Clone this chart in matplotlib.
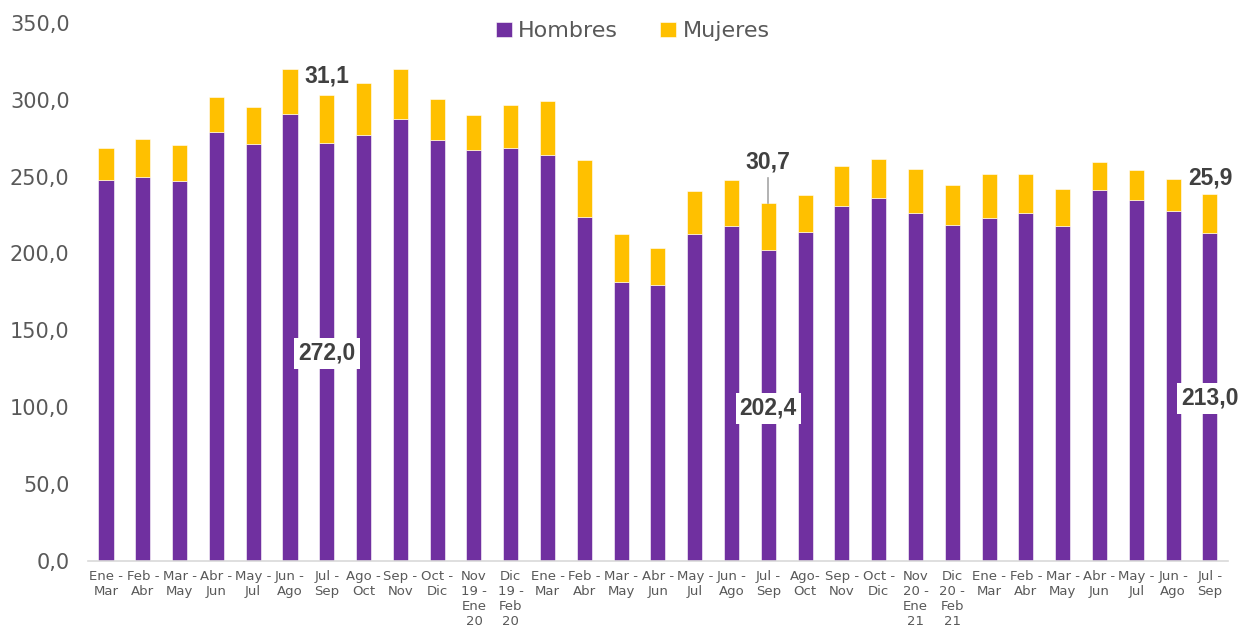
import matplotlib
matplotlib.use('Agg')
import matplotlib.pyplot as plt
import numpy as np

# Periodos trimestrales moviles (sep 2019 - sep 2021)
periodos = ['Ene -\nMar', 'Feb -\nAbr', 'Mar -\nMay', 'Abr -\nJun', 'May -\nJul', 'Jun -\nAgo',
            'Jul -\nSep', 'Ago -\nOct', 'Sep -\nNov', 'Oct -\nDic', 'Nov\n19 -\nEne\n20',
            'Dic\n19 -\nFeb\n20', 'Ene -\nMar', 'Feb -\nAbr', 'Mar -\nMay', 'Abr -\nJun',
            'May -\nJul', 'Jun -\nAgo', 'Jul -\nSep', 'Ago-\nOct', 'Sep -\nNov', 'Oct -\nDic',
            'Nov\n20 -\nEne\n21', 'Dic\n20 -\nFeb\n21', 'Ene -\nMar', 'Feb -\nAbr', 'Mar -\nMay',
            'Abr -\nJun', 'May -\nJul', 'Jun -\nAgo', 'Jul -\nSep']

hombres = [247.7, 249.7, 246.9, 278.8, 271.2, 290.5, 272.0, 277.0, 287.6, 274.0, 267.3,
           268.4, 263.8, 223.4, 181.5, 179.2, 212.8, 218.0, 202.4, 213.9, 230.6, 236.0,
           226.4, 218.6, 223.0, 226.2, 217.8, 241.2, 234.5, 227.7, 213.0]

mujeres = [21.1, 24.5, 23.4, 22.8, 23.9, 29.5, 31.1, 34.1, 32.4, 26.7, 22.9,
           28.1, 35.4, 37.5, 31.3, 24.4, 27.8, 29.9, 30.7, 24.1, 26.2, 25.6,
           28.3, 25.7, 28.8, 25.6, 24.1, 18.0, 19.5, 20.5, 25.9]

# barras destacadas con etiqueta
destacados = [6, 18, 30]

color_h = '#7030A0'
color_m = '#FFC000'
gris = '#595959'

fig = plt.figure(figsize=(12.42, 6.33), dpi=100)
ax = fig.add_axes([0.0705, 0.1145, 0.9185, 0.8492])

x = np.arange(len(periodos))
ancho = 0.41
ax.bar(x, hombres, width=ancho, color=color_h, label='Hombres', edgecolor='white', linewidth=0.4)
ax.bar(x, mujeres, width=ancho, bottom=hombres, color=color_m, label='Mujeres', edgecolor='white', linewidth=0.4)

ax.set_xlim(-0.5, len(periodos) - 0.5)
ax.set_ylim(0, 350)
ax.set_yticks(np.arange(0, 351, 50))
ax.set_yticklabels([f'{v:.1f}'.replace('.', ',') for v in np.arange(0, 351, 50)],
                   fontsize=15, color=gris)
ax.set_xticks(x)
ax.set_xticklabels(periodos, fontsize=9.5, color=gris, linespacing=1.2, va='top')
ax.tick_params(axis='both', length=0)
ax.tick_params(axis='y', pad=13)
ax.tick_params(axis='x', pad=7)

for s in ['top', 'right', 'left']:
    ax.spines[s].set_visible(False)
ax.spines['bottom'].set_color('#D9D9D9')
ax.spines['bottom'].set_linewidth(1.2)

# etiquetas de hombres (en el interior de la barra)
pos_h = {6: 135, 18: 99, 30: 105.5}
for i in destacados:
    ax.text(i, pos_h[i], f'{hombres[i]:.1f}'.replace('.', ','), ha='center', va='center',
            fontsize=16.5, fontweight='bold', color='#404040', family='Liberation Sans',
            bbox=dict(facecolor='white', edgecolor='none', pad=3))

# etiquetas de mujeres (sobre la barra)
pos_m = {6: 315.5, 18: 259.5, 30: 249}
for i in destacados:
    ax.text(i, pos_m[i], f'{mujeres[i]:.1f}'.replace('.', ','), ha='center', va='center',
            fontsize=16.5, fontweight='bold', color='#404040', family='Liberation Sans')
ax.plot([18, 18], [hombres[18] + mujeres[18], 249], color='#A6A6A6', lw=1.2)

ax.legend(loc='upper center', bbox_to_anchor=(0.478, 1.04), ncol=2, frameon=False,
          fontsize=16, labelcolor=gris, handlelength=0.7, handleheight=0.7,
          handletextpad=0.3, columnspacing=1.9)

fig.savefig('out.png', dpi=100)
